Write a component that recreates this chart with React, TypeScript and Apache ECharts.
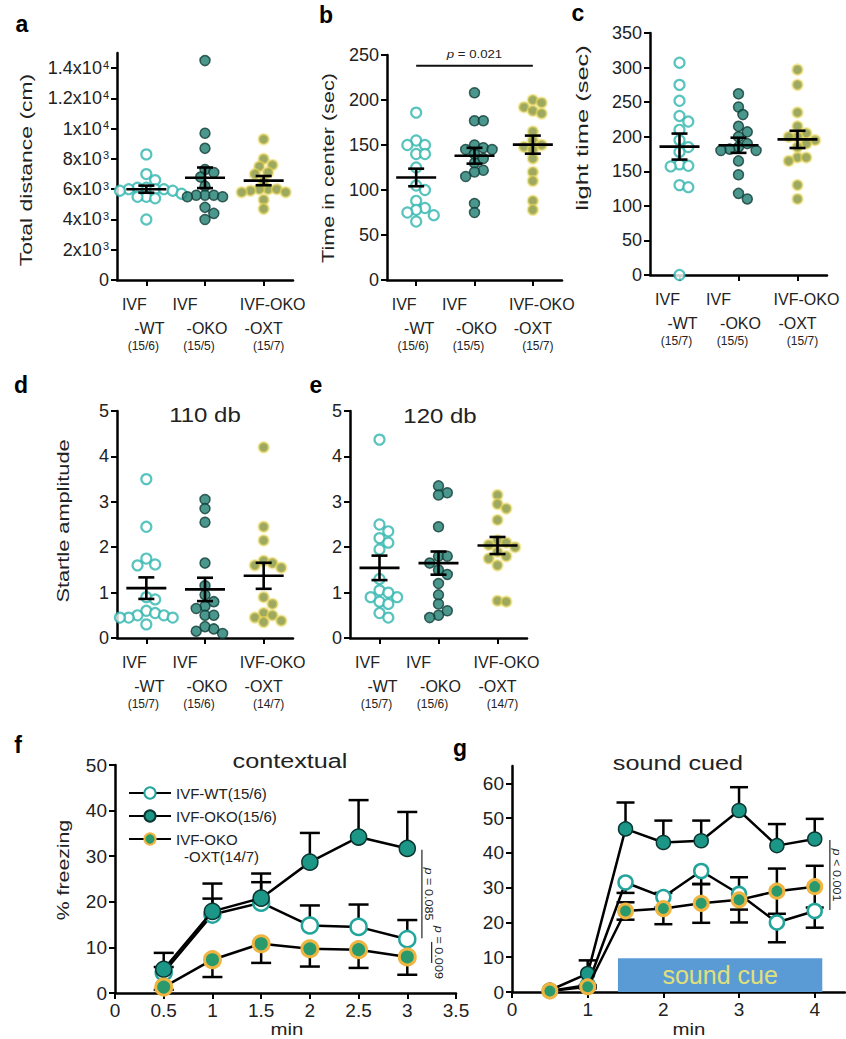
import React, { useEffect, useRef } from "react";
import * as echarts from "echarts";

const FONT = "'Liberation Sans', Arial, Helvetica, sans-serif";
const INK = "#222";

// ---------- shared group labels ----------
const GROUP_X = [1, 2, 3];
const GROUP_L1 = ["IVF", "IVF", "IVF-OKO"];
const GROUP_L2 = ["-WT", "-OKO", "-OXT"];

// ---------- panel a : total distance ----------
const A_WT = [8300, 7000, 6600, 6100, 6100, 6000, 6000, 6000, 5900, 5900, 5700, 5500, 5500, 5400, 4000];
const A_OKO = [14500, 9700, 8700, 7300, 7100, 6800, 6200, 5600, 5600, 5600, 5500, 5500, 4800, 4400, 4000];
const A_OXT = [9300, 8000, 7600, 7500, 7100, 7000, 6000, 6500, 6000, 6000, 5900, 5800, 5800, 5300, 4700];
const A_N = ["(15/6)", "(15/5)", "(15/7)"];
const A_TICKS = [0, 2000, 4000, 6000, 8000, 10000, 12000, 14000];
const A_TICK_LABELS = ["0", "2x10{s|3}", "4x10{s|3}", "6x10{s|3}", "8x10{s|3}", "1x10{s|4}", "1.2x10{s|4}", "1.4x10{s|4}"];

// ---------- panel b : time in center ----------
const B_WT = [186, 155, 150, 150, 140, 140, 125, 105, 100, 88, 80, 78, 75, 72, 65];
const B_OKO = [208, 177, 177, 150, 147, 145, 145, 140, 135, 130, 122, 120, 115, 85, 75];
const B_OXT = [200, 197, 192, 188, 185, 165, 155, 150, 148, 145, 135, 120, 110, 88, 78];
const B_N = ["(15/6)", "(15/5)", "(15/7)"];
const B_TICKS = [0, 50, 100, 150, 200, 250];
const B_SIG = [1, 3, 238];
const B_P_TEXT = "= 0.021";

// ---------- panel c : light time ----------
const C_WT = [307, 275, 252, 230, 222, 210, 195, 185, 178, 160, 158, 157, 130, 127, 0];
const C_OKO = [262, 243, 232, 215, 207, 200, 190, 185, 182, 180, 180, 165, 145, 118, 110];
const C_OXT = [297, 275, 235, 215, 205, 200, 200, 195, 190, 185, 170, 170, 165, 130, 110];
const C_N = ["(15/7)", "(15/5)", "(15/7)"];
const C_TICKS = [0, 50, 100, 150, 200, 250, 300, 350];

// ---------- panel d : startle 110 db ----------
const D_WT = [3.5, 2.45, 1.75, 1.62, 1.6, 0.9, 0.85, 0.6, 0.55, 0.5, 0.5, 0.45, 0.45, 0.45, 0.3];
const D_OKO = [3.05, 2.85, 2.55, 1.65, 1.15, 0.95, 0.8, 0.7, 0.65, 0.5, 0.5, 0.25, 0.2, 0.15, 0.1];
const D_OXT = [4.2, 2.45, 2.15, 1.7, 1.65, 1.6, 1.55, 0.9, 0.75, 0.55, 0.5, 0.45, 0.38, 0.35];
const D_N = ["(15/7)", "(15/6)", "(14/7)"];
const STARTLE_TICKS = [0, 1, 2, 3, 4, 5];

// ---------- panel e : startle 120 db ----------
const E_WT = [4.37, 2.5, 2.35, 2.2, 2.1, 1.95, 1.3, 1.05, 0.9, 0.9, 1.0, 0.8, 0.75, 0.55, 0.45];
const E_OKO = [3.35, 3.2, 3.15, 2.45, 1.8, 1.8, 1.65, 1.5, 1.4, 1.2, 0.95, 0.75, 0.6, 0.5, 0.45];
const E_OXT = [3.15, 2.95, 2.85, 2.6, 2.15, 2.1, 2.05, 2.0, 1.9, 1.8, 1.75, 1.6, 0.82, 0.8];
const E_N = ["(15/7)", "(15/6)", "(14/7)"];

// ---------- panel f : contextual freezing ----------
const F_NAMES = ["IVF-WT(15/6)", "IVF-OKO(15/6)", "IVF-OKO\n-OXT(14/7)"];
const F_X = [0.5, 1, 1.5, 2, 2.5, 3];
const F_WT = [4.5, 17.2, 19.8, 14.8, 14.5, 11.8];
const F_WT_SEM = [1.2, 3.5, 4.5, 4.4, 4.9, 4.2];
const F_OKO = [5.2, 17.9, 20.8, 28.7, 34.2, 31.7];
const F_OKO_SEM = [3.6, 6.1, 5.4, 6.4, 8.1, 8.0];
const F_OXT = [1.3, 7.3, 10.8, 9.7, 9.5, 7.9];
const F_OXT_SEM = [0.6, 3.8, 4.2, 3.9, 4.0, 3.9];
const F_P_LINES = [[3.15, 31.4, 12.0], [3.25, 11.2, 6.6]];
const F_P_TEXT = ["= 0.085", "= 0.009"];

// ---------- panel g : sound cued freezing ----------
const G_X = [0.5, 1, 1.5, 2, 2.5, 3, 3.5, 4];
const G_WT = [0.3, 2.0, 31.5, 27.3, 34.8, 28.2, 20.0, 23.3];
const G_WT_SEM = [0, 0.5, 3.0, 3.0, 3.8, 4.5, 5.7, 4.8];
const G_OKO = [0.5, 5.3, 46.9, 43.0, 43.5, 52.2, 42.1, 44.0];
const G_OKO_SEM = [0, 3.8, 7.6, 6.3, 5.8, 6.7, 6.2, 5.8];
const G_OXT = [0.3, 1.5, 23.3, 24.0, 25.5, 26.5, 29.0, 30.3];
const G_OXT_SEM = [0, 0.5, 2.5, 4.5, 5.6, 6.5, 6.5, 6.0];
const G_X_TICKS = [0, 1, 2, 3, 4];
const G_Y_TICKS = [0, 10, 20, 30, 40, 50, 60];
const G_P_LINES = [[4.2, 43.7, 23.6]];
const G_P_TEXT = ["< 0.001"];
const SOUND_CUE = [1.4, 4.1, 9.7];

// ---------- helpers ----------
function mean(a: number[]) {
  return a.reduce((s, v) => s + v, 0) / a.length;
}
function sem(a: number[]) {
  const m = mean(a);
  const v = a.reduce((s, x) => s + (x - m) * (x - m), 0) / (a.length - 1);
  return Math.sqrt(v / a.length);
}
function swarm(values: number[], pxPerUnit: number, diam: number): number[] {
  const order = values.map((_, i) => i).sort((p, q) => values[q] - values[p]);
  const placed: { x: number; y: number }[] = [];
  const out = new Array(values.length).fill(0);
  for (const i of order) {
    const y = values[i] * pxPerUnit;
    let chosen = 0;
    for (let k = 0; k < 80; k++) {
      const cand = k === 0 ? 0 : (k % 2 === 1 ? 1 : -1) * Math.ceil(k / 2) * diam * 0.5;
      if (placed.every((p) => Math.hypot(p.x - cand, p.y - y) >= diam * 0.98)) {
        chosen = cand;
        break;
      }
    }
    placed.push({ x: chosen, y });
    out[i] = chosen;
  }
  return out;
}

const AXIS_LINE = { show: true, onZero: false, lineStyle: { color: "#000", width: 2.5 } };
const AXIS_TICK = { show: true, inside: false, length: 6, lineStyle: { color: "#000", width: 2 } };

const DOT_STYLES = [
  { color: "#ffffff", borderColor: "#2fb5ae", borderWidth: 2.2 },
  { color: "#1f7d70", borderColor: "#103c36", borderWidth: 1.5 },
  { color: "#85923a", borderColor: "rgba(236,216,90,0.65)", borderWidth: 2.5 },
];
const LINE_STYLES = [
  { color: "#ffffff", borderColor: "#23a59c", borderWidth: 2.5 },
  { color: "#1c9686", borderColor: "#0a3530", borderWidth: 1.5 },
  { color: "#2a9a6c", borderColor: "#f0b540", borderWidth: 3 },
];

// category label layout: horizontal offset (px) of each line per group, line drop below axis
const LABEL_SHIFT = [[-12, 3, -3], [-20, 2, -6], [9, 0, 5]];
const LABEL_DY = [24, 48, 66];
const LINE_FONT = [16, 16, 12];

// text element anchored by its top edge; (cx, cy) is the wanted centre
function textEl(text: string, cx: number, cy: number, size: number, opts: any = {}) {
  const rot = opts.rotation || 0;
  let x = cx;
  let y = cy;
  if (rot === 0) y = cy - size / 2;
  else if (rot > 0) x = cx - size / 2;
  else x = cx + size / 2;
  return {
    type: "text",
    x,
    y,
    rotation: rot,
    scaleX: opts.scaleX || 1,
    silent: true,
    style: {
      text,
      rich: opts.rich,
      fontSize: size,
      fontFamily: FONT,
      fontWeight: opts.bold ? "bold" : "normal",
      fill: opts.fill || INK,
      align: opts.align || "center",
      verticalAlign: "top",
      textAlign: opts.align || "center",
      textVerticalAlign: "top",
    },
  };
}

function makeCatLabelRender(n: string[]) {
  return (params: any, api: any) => {
    const g = params.dataIndex;
    const c = api.coord([api.value(0), 0]);
    const lines = [GROUP_L1[g], GROUP_L2[g], n[g]];
    return {
      type: "group",
      children: lines.map((t, l) => textEl(t, c[0] + LABEL_SHIFT[g][l], c[1] + LABEL_DY[l], LINE_FONT[l])),
    };
  };
}

function renderMeanSem(params: any, api: any) {
  const x = api.value(0);
  const m = api.value(1);
  const s = api.value(2);
  const c = api.coord([x, m]);
  const t = api.coord([x, m + s]);
  const b = api.coord([x, m - s]);
  const style = { stroke: "#000", lineWidth: 2.6 };
  return {
    type: "group",
    children: [
      { type: "line", shape: { x1: c[0] - 20, y1: c[1], x2: c[0] + 20, y2: c[1] }, style },
      { type: "line", shape: { x1: c[0], y1: t[1], x2: c[0], y2: b[1] }, style },
      { type: "line", shape: { x1: c[0] - 8, y1: t[1], x2: c[0] + 8, y2: t[1] }, style },
      { type: "line", shape: { x1: c[0] - 8, y1: b[1], x2: c[0] + 8, y2: b[1] }, style },
    ],
  };
}

function makeErrRender(cap: number) {
  return (params: any, api: any) => {
    const x = api.value(0);
    const y = api.value(1);
    const up = api.value(2);
    const dn = api.value(3);
    const c = api.coord([x, y]);
    const style = { stroke: "#000", lineWidth: 2.5 };
    const children: any[] = [];
    if (up > 0) {
      const t = api.coord([x, y + up]);
      children.push({ type: "line", shape: { x1: c[0], y1: c[1], x2: c[0], y2: t[1] }, style });
      children.push({ type: "line", shape: { x1: c[0] - cap, y1: t[1], x2: c[0] + cap, y2: t[1] }, style });
    }
    if (dn > 0) {
      const b = api.coord([x, y - dn]);
      children.push({ type: "line", shape: { x1: c[0], y1: c[1], x2: c[0], y2: b[1] }, style });
      children.push({ type: "line", shape: { x1: c[0] - cap, y1: b[1], x2: c[0] + cap, y2: b[1] }, style });
    }
    return { type: "group", children };
  };
}

const P_SIZE = 11;
const P_RICH = {
  i: { fontStyle: "italic", fontSize: P_SIZE, fontFamily: FONT, fill: INK, color: INK },
  r: { fontSize: P_SIZE, fontFamily: FONT, fill: INK, color: INK },
};

function makePLineRender(texts: string[]) {
  return (params: any, api: any) => {
    const x = api.value(0);
    const p1 = api.coord([x, api.value(1)]);
    const p2 = api.coord([x, api.value(2)]);
    return {
      type: "group",
      children: [
        { type: "line", shape: { x1: p1[0], y1: p1[1], x2: p2[0], y2: p2[1] }, style: { stroke: "#333", lineWidth: 1.3 } },
        textEl("{i|p} {r|" + texts[params.dataIndex] + "}", p1[0] + 7, (p1[1] + p2[1]) / 2, P_SIZE, {
          rotation: -Math.PI / 2,
          scaleX: 1.15,
          rich: P_RICH,
        }),
      ],
    };
  };
}

function renderSig(params: any, api: any) {
  const a = api.coord([api.value(0), api.value(2)]);
  const b = api.coord([api.value(1), api.value(2)]);
  return {
    type: "group",
    children: [
      { type: "line", shape: { x1: a[0], y1: a[1], x2: b[0], y2: b[1] }, style: { stroke: "#111", lineWidth: 2 } },
      textEl("{i|p} {r|" + B_P_TEXT + "}", (a[0] + b[0]) / 2, a[1] - 11, P_SIZE, { scaleX: 1.2, rich: P_RICH }),
    ],
  };
}

function buildOption() {
  const grids: any[] = [];
  const xAxes: any[] = [];
  const yAxes: any[] = [];
  const series: any[] = [];

  const scatterPanels = [
    { grid: { left: 117, top: 53, width: 176, height: 227 }, yMax: 15000, ticks: A_TICKS, labels: A_TICK_LABELS, groups: [A_WT, A_OKO, A_OXT], n: A_N },
    { grid: { left: 387, top: 55, width: 175, height: 225 }, yMax: 250, ticks: B_TICKS, labels: null, groups: [B_WT, B_OKO, B_OXT], n: B_N },
    { grid: { left: 650, top: 33, width: 177, height: 242 }, yMax: 350, ticks: C_TICKS, labels: null, groups: [C_WT, C_OKO, C_OXT], n: C_N },
    { grid: { left: 117, top: 411, width: 176, height: 227 }, yMax: 5, ticks: STARTLE_TICKS, labels: null, groups: [D_WT, D_OKO, D_OXT], n: D_N },
    { grid: { left: 350, top: 411, width: 177, height: 227 }, yMax: 5, ticks: STARTLE_TICKS, labels: null, groups: [E_WT, E_OKO, E_OXT], n: E_N },
  ];

  scatterPanels.forEach((p) => {
    const idx = grids.length;
    grids.push({ ...p.grid });
    xAxes.push({
      gridIndex: idx,
      type: "value",
      min: 0.5,
      max: 3.5,
      axisLine: AXIS_LINE,
      axisTick: { ...AXIS_TICK, customValues: GROUP_X },
      splitLine: { show: false },
      axisLabel: { show: false },
    });
    const ticks = p.ticks;
    const labels = p.labels;
    yAxes.push({
      gridIndex: idx,
      type: "value",
      min: 0,
      max: p.yMax,
      axisLine: AXIS_LINE,
      axisTick: { ...AXIS_TICK, customValues: ticks },
      splitLine: { show: false },
      axisLabel: {
        customValues: ticks,
        hideOverlap: false,
        margin: 8,
        fontSize: 18,
        color: INK,
        fontFamily: FONT,
        rich: { s: { fontSize: 11, verticalAlign: "top", color: INK, fontFamily: FONT, padding: [0, 0, 0, 1] } },
        formatter: (v: number) => {
          if (!labels) return String(v);
          const k = ticks.indexOf(v);
          return k >= 0 ? labels[k] : "";
        },
      },
    });
    const pxY = p.grid.height / p.yMax;
    const pxX = p.grid.width / 3;
    p.groups.forEach((vals, g) => {
      const offs = swarm(vals, pxY, 8.8);
      series.push({
        type: "scatter",
        xAxisIndex: idx,
        yAxisIndex: idx,
        silent: true,
        symbol: "circle",
        symbolSize: 10,
        itemStyle: DOT_STYLES[g],
        z: 2,
        data: vals.map((v, i) => [GROUP_X[g] + offs[i] / pxX, v]),
      });
    });
    series.push({
      type: "custom",
      xAxisIndex: idx,
      yAxisIndex: idx,
      silent: true,
      z: 4,
      renderItem: renderMeanSem,
      data: p.groups.map((vals, g) => [GROUP_X[g], mean(vals), sem(vals)]),
    });
    series.push({
      type: "custom",
      xAxisIndex: idx,
      yAxisIndex: idx,
      silent: true,
      clip: false,
      z: 4,
      renderItem: makeCatLabelRender(p.n),
      data: GROUP_X.map((x) => [x, 0]),
    });
    if (idx === 1) {
      series.push({
        type: "custom",
        xAxisIndex: idx,
        yAxisIndex: idx,
        silent: true,
        z: 4,
        renderItem: renderSig,
        data: [B_SIG],
      });
    }
  });

  // ---------- panel f ----------
  const fIdx = grids.length;
  grids.push({ left: 115, top: 765, width: 341, height: 228 });
  xAxes.push({
    gridIndex: fIdx,
    type: "value",
    min: 0,
    max: 3.5,
    interval: 0.5,
    axisLine: AXIS_LINE,
    axisTick: AXIS_TICK,
    splitLine: { show: false },
    axisLabel: { fontSize: 19, color: INK, fontFamily: FONT, margin: 8, hideOverlap: false },
  });
  yAxes.push({
    gridIndex: fIdx,
    type: "value",
    min: 0,
    max: 50,
    interval: 10,
    axisLine: AXIS_LINE,
    axisTick: AXIS_TICK,
    splitLine: { show: false },
    axisLabel: { fontSize: 19, color: INK, fontFamily: FONT, margin: 8, hideOverlap: false },
  });

  // ---------- panel g ----------
  const gIdx = grids.length;
  grids.push({ left: 512, top: 766, width: 333, height: 226 });
  xAxes.push({
    gridIndex: gIdx,
    type: "value",
    min: 0,
    max: 4.4,
    axisLine: AXIS_LINE,
    axisTick: { ...AXIS_TICK, customValues: G_X_TICKS },
    splitLine: { show: false },
    axisLabel: { customValues: G_X_TICKS, fontSize: 19, color: INK, fontFamily: FONT, margin: 8, hideOverlap: false },
  });
  yAxes.push({
    gridIndex: gIdx,
    type: "value",
    min: 0,
    max: 65,
    axisLine: AXIS_LINE,
    axisTick: { ...AXIS_TICK, customValues: G_Y_TICKS },
    splitLine: { show: false },
    axisLabel: { customValues: G_Y_TICKS, fontSize: 19, color: INK, fontFamily: FONT, margin: 8, hideOverlap: false },
  });

  const timeSets = [
    { idx: fIdx, xs: F_X, cap: 10, size: 16, sets: [
      { y: F_WT, e: F_WT_SEM, up: true, dn: false },
      { y: F_OKO, e: F_OKO_SEM, up: true, dn: false },
      { y: F_OXT, e: F_OXT_SEM, up: false, dn: true },
    ] },
    { idx: gIdx, xs: G_X, cap: 9, size: 14, sets: [
      { y: G_WT, e: G_WT_SEM, up: false, dn: true },
      { y: G_OKO, e: G_OKO_SEM, up: true, dn: false },
      { y: G_OXT, e: G_OXT_SEM, up: true, dn: true },
    ] },
  ];

  timeSets.forEach((ts) => {
    ts.sets.forEach((s) => {
      series.push({
        type: "custom",
        xAxisIndex: ts.idx,
        yAxisIndex: ts.idx,
        silent: true,
        z: 2,
        renderItem: makeErrRender(ts.cap),
        data: ts.xs.map((x, i) => [x, s.y[i], s.up ? s.e[i] : 0, s.dn ? s.e[i] : 0]),
      });
    });
    ts.sets.forEach((s, k) => {
      const ser: any = {
        type: "line",
        name: F_NAMES[k],
        xAxisIndex: ts.idx,
        yAxisIndex: ts.idx,
        silent: true,
        z: 3 + k,
        symbol: "circle",
        symbolSize: ts.size,
        showSymbol: true,
        lineStyle: { color: "#000", width: 2.5 },
        itemStyle: LINE_STYLES[k],
        data: ts.xs.map((x, i) => [x, s.y[i]]),
      };
      if (ts.idx === gIdx && k === 0) {
        ser.markArea = {
          silent: true,
          itemStyle: { color: "#5b9bd5", opacity: 1 },
          label: { show: true, position: "inside", color: "#e0e07a", fontSize: 25, fontFamily: FONT, formatter: "sound cue" },
          data: [[{ name: "sound cue", coord: [SOUND_CUE[0], 0] }, { coord: [SOUND_CUE[1], SOUND_CUE[2]] }]],
        };
      }
      series.push(ser);
    });
  });

  series.push({
    type: "custom",
    xAxisIndex: fIdx,
    yAxisIndex: fIdx,
    silent: true,
    z: 6,
    renderItem: makePLineRender(F_P_TEXT),
    data: F_P_LINES,
  });
  series.push({
    type: "custom",
    xAxisIndex: gIdx,
    yAxisIndex: gIdx,
    silent: true,
    z: 6,
    renderItem: makePLineRender(G_P_TEXT),
    data: G_P_LINES,
  });

  const bold = { bold: true, fill: "#000" };
  const up = Math.PI / 2;
  const legendSecondLine = F_NAMES[2].split("\n")[1];
  const graphic = [
    textEl("a", 22, 24, 23, bold),
    textEl("b", 326, 15, 23, bold),
    textEl("c", 578, 13, 23, bold),
    textEl("d", 21, 385, 23, bold),
    textEl("e", 316, 385, 23, bold),
    textEl("f", 18, 745, 23, bold),
    textEl("g", 460, 748, 23, bold),
    textEl("Total distance (cm)", 26, 170, 17, { rotation: up, scaleX: 1.35 }),
    textEl("Time in center (sec)", 328, 168, 17, { rotation: up, scaleX: 1.27 }),
    textEl("light time (sec)", 582, 128, 17, { rotation: up, scaleX: 1.5 }),
    textEl("Startle amplitude", 63, 521, 17, { rotation: up, scaleX: 1.28 }),
    textEl("% freezing", 63, 870, 17, { rotation: up, scaleX: 1.25 }),
    textEl("110 db", 205, 415, 20, { scaleX: 1.2 }),
    textEl("120 db", 440, 416, 20, { scaleX: 1.2 }),
    textEl("contextual", 290, 761, 21, { scaleX: 1.2 }),
    textEl("sound cued", 678, 763, 21, { scaleX: 1.2 }),
    textEl("min", 287, 1029, 17, { scaleX: 1.2 }),
    textEl("min", 689, 1029, 17, { scaleX: 1.2 }),
    textEl(legendSecondLine, 184, 856, 15, { align: "left" }),
  ];

  return {
    animation: false,
    backgroundColor: "#ffffff",
    textStyle: { fontFamily: FONT, color: INK },
    tooltip: { show: false },
    legend: {
      data: F_NAMES,
      orient: "vertical",
      left: 123,
      top: 779,
      itemWidth: 42,
      itemHeight: 14,
      itemGap: 5,
      selectedMode: false,
      textStyle: { fontSize: 15, color: INK, fontFamily: FONT, lineHeight: 18 },
      formatter: (name: string) => name.split("\n")[0],
    },
    grid: grids,
    xAxis: xAxes,
    yAxis: yAxes,
    series,
    graphic,
  };
}

export default function App() {
  const ref = useRef<HTMLDivElement>(null);
  useEffect(() => {
    document.body.style.margin = "0";
    if (!ref.current) return;
    const chart = echarts.init(ref.current, undefined, { renderer: "svg" });
    chart.setOption(buildOption() as any);
    return () => {
      chart.dispose();
    };
  }, []);
  return (
    <div
      ref={ref}
      style={{ position: "relative", width: 846, height: 1039, background: "#ffffff" }}
    />
  );
}
